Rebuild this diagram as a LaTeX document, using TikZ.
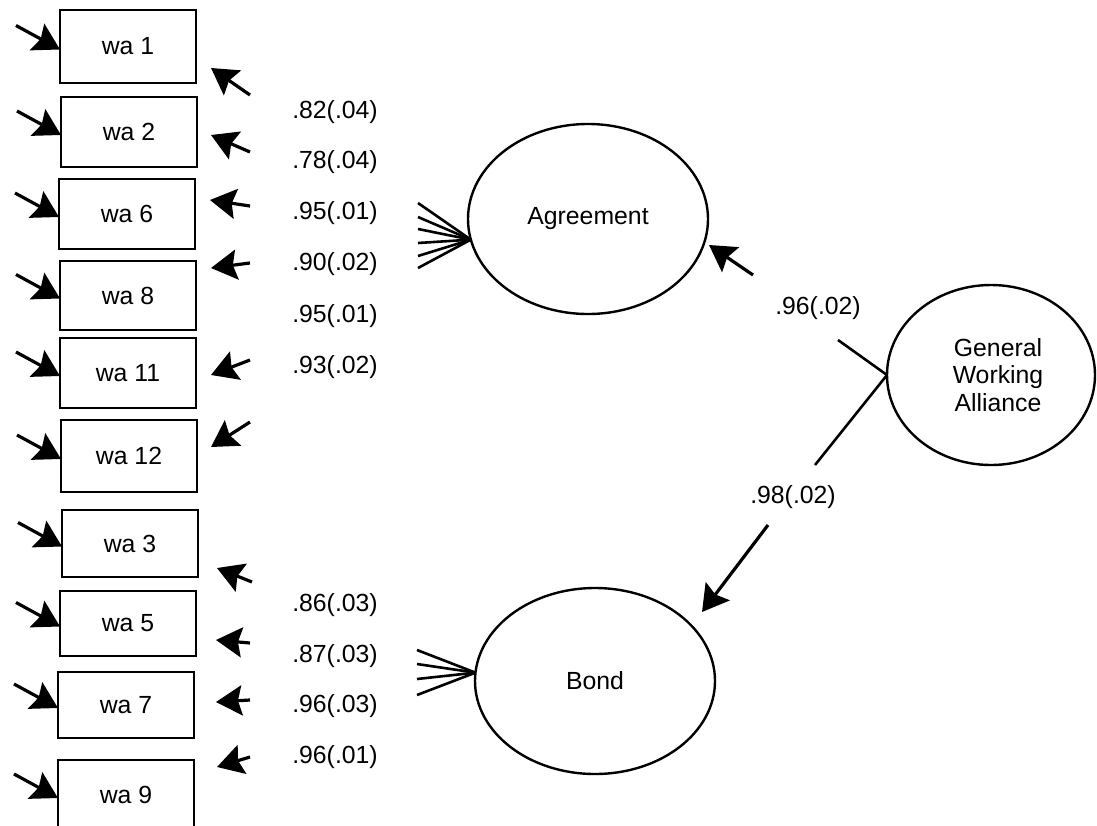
\documentclass[tikz,border=0pt]{standalone}
\usepackage{fontspec}
\setmainfont{Liberation Sans}
\usetikzlibrary{arrows.meta,calc,shapes.geometric}
\begin{document}
\begin{tikzpicture}[x=0.5pt,y=-0.5pt,
  txt/.style={font=\fontsize{12.4}{13.8}\selectfont},
  obs/.style={draw, line width=1.4pt, minimum width=68pt, minimum height=35pt,
    inner sep=0pt, outer sep=0pt, txt},
  lat/.style={draw, ellipse, line width=1.2pt, inner sep=0pt, outer sep=0pt, txt, align=center},
  head/.style={-{Stealth[length=13pt,width=15pt,inset=2pt]}, line width=1.6pt},
  link/.style={line width=1.3pt},
  fan/.style={line width=1.3pt},
  lab/.style={txt, inner sep=0pt}
]
\useasboundingbox (0,0) rectangle (1097,825);

% observed indicators
\node[obs, minimum height=36.5pt] (wa1)  at (128,46.5)  {wa 1};
\node[obs] (wa2)  at (129,132)   {wa 2};
\node[obs] (wa6)  at (127,214)   {wa 6};
\node[obs, minimum height=34.5pt] (wa8)  at (128,295.5) {wa 8};
\node[obs] (wa11) at (128,373)   {wa 11};
\node[obs, minimum height=36pt] (wa12) at (129,456)   {wa 12};
\node[obs, minimum height=33.5pt] (wa3)  at (130,543.5) {wa 3};
\node[obs, minimum height=32.5pt] (wa5)  at (128,623.5) {wa 5};
\node[obs, minimum height=33pt] (wa7)  at (126,705)   {wa 7};
\node[obs] (wa9)  at (126,795)   {wa 9};

% error arrows on the left
\foreach \b in {wa1,wa2,wa6,wa8,wa11,wa12,wa3,wa5,wa7,wa9}{
  \coordinate (\b e) at ($(\b.west)+(-44,-21)$);
  \coordinate (\b t) at ($(\b.west)+(0,3)$);
  \draw[head] (\b e) -- (\b t);
}

% latent variables
\node[lat, minimum width=120pt, minimum height=95pt] (agr) at (588,219) {Agreement};
\node[lat, minimum width=120pt, minimum height=93pt] (bond) at (595,681) {Bond};
\node[lat, minimum width=104pt, minimum height=90pt] (gwa) at (991,375)
  {\hspace*{7pt}General\\\hspace*{7pt}Working\\\hspace*{7pt}Alliance};

% loading arrow ends near the indicators (Agreement)
\coordinate (a1s) at (250,95);  \coordinate (a1t) at (211,68);
\coordinate (a2s) at (250,152); \coordinate (a2t) at (211,135);
\coordinate (a3s) at (250,206); \coordinate (a3t) at (210,200);
\coordinate (a4s) at (250,263); \coordinate (a4t) at (211,268);
\coordinate (a5s) at (250,360); \coordinate (a5t) at (211,375);
\coordinate (a6s) at (250,422); \coordinate (a6t) at (211,447);
\foreach \i in {1,...,6}{\draw[head] (a\i s) -- (a\i t);}

% loading arrow ends near the indicators (Bond)
\coordinate (b1s) at (252,582); \coordinate (b1t) at (217,568);
\coordinate (b2s) at (250,643); \coordinate (b2t) at (216,640);
\coordinate (b3s) at (250,700); \coordinate (b3t) at (216,702);
\coordinate (b4s) at (250,757); \coordinate (b4t) at (217,767);
\foreach \i in {1,...,4}{\draw[head] (b\i s) -- (b\i t);}

% fans at the latent variables
\foreach \y [count=\i] in {203,217,229,243,256,268}{
  \coordinate (fa\i) at (418,\y);
  \draw[fan] (agr.190) -- (fa\i);
}
\foreach \y [count=\i] in {650,664,679,695}{
  \coordinate (fb\i) at (417,\y);
  \draw[fan] (bond.176) -- (fb\i);
}

% loading labels
\foreach \t/\y in {.82(.04)/112,.78(.04)/162,.95(.01)/213,.90(.02)/264,.95(.01)/316,.93(.02)/367,
                   .86(.03)/605,.87(.03)/656,.96(.03)/706,.96(.01)/757}{
  \node[lab] at (335,\y) {\t};
}

% second-order paths
\coordinate (g1a) at (838,340); \coordinate (g1b) at (753,275); \coordinate (g1t) at (709,245);
\draw[link] (gwa.west) -- (g1a);
\draw[head] (g1b) -- (g1t);
\coordinate (g2a) at (815,465); \coordinate (g2b) at (768,525); \coordinate (g2t) at (702,612);
\draw[link] (gwa.west) -- (g2a);
\draw[head] (g2b) -- (g2t);

\node[lab] (l1) at (818,308) {.96(.02)};
\node[lab] (l2) at (793,497) {.98(.02)};
\end{tikzpicture}
\end{document}
